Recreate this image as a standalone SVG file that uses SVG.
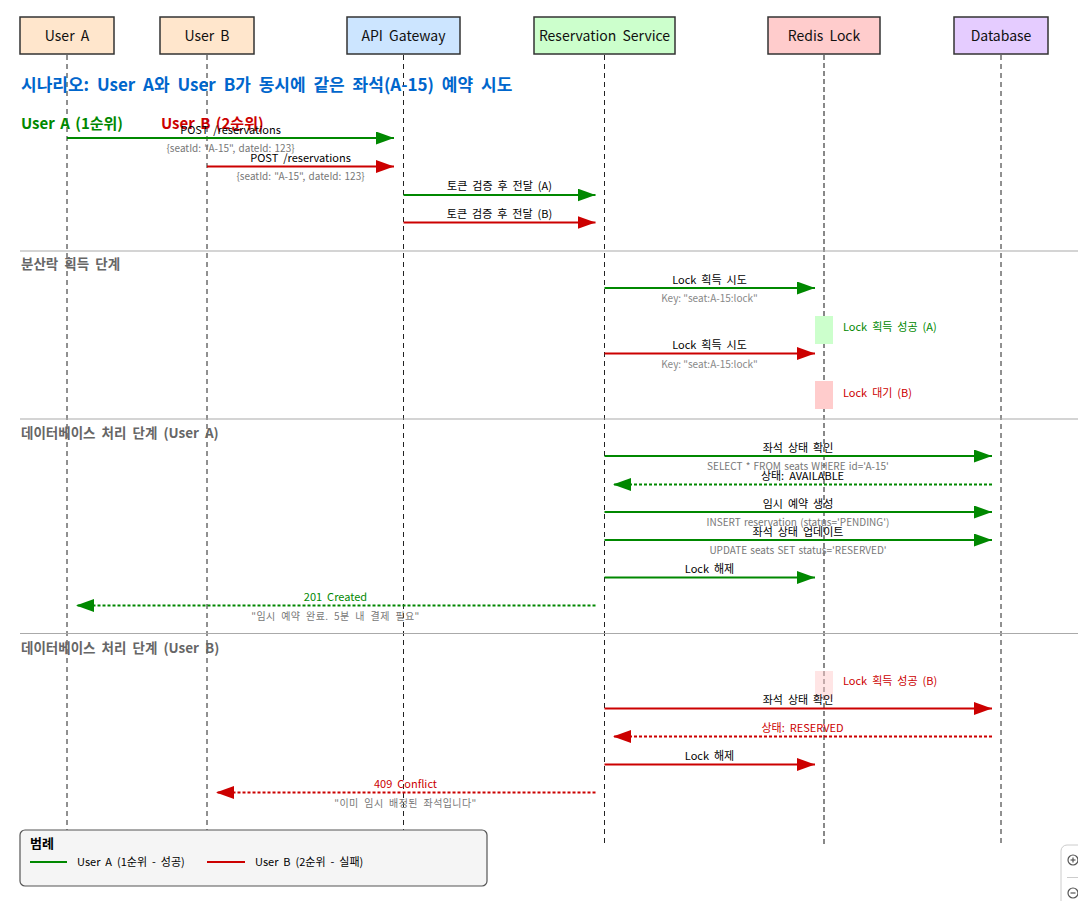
<svg xmlns="http://www.w3.org/2000/svg" width="1078" height="901" viewBox="0 0 1078 901">
<style>
text{font-family:"Noto Sans CJK KR","Noto Sans",sans-serif;}
.actor{stroke:#333;stroke-width:1.5;}
.aname{font-size:14px;fill:#111;text-anchor:middle;word-spacing:3px;}
.life{stroke:#222;stroke-width:1;stroke-dasharray:5,4;fill:none;}
.life-r{stroke:#888;stroke-width:2;stroke-dasharray:5,3;fill:none;}
.sep{stroke:#aaa;stroke-width:1.2;}
.sec{font-size:13.5px;font-weight:bold;fill:#666;word-spacing:3px;}
.g{stroke:#008800;stroke-width:2;fill:none;}
.r{stroke:#cc0000;stroke-width:2;fill:none;}
.dot{stroke-dasharray:3,2;}
.lbl{font-size:11px;fill:#000;text-anchor:middle;word-spacing:2.5px;}
.sub{font-size:10px;fill:#777;text-anchor:middle;word-spacing:1px;}
.subk{font-size:10px;fill:#777;text-anchor:middle;word-spacing:3px;letter-spacing:0.4px;}
.key{font-size:10px;fill:#888;text-anchor:middle;}
.gt{fill:#008800;}
.rt{fill:#cc0000;}
.note{font-size:11px;word-spacing:2.5px;}
.leg{font-size:11px;fill:#000;word-spacing:2.5px;}
</style>
<defs>
<marker id="ag" markerUnits="userSpaceOnUse" markerWidth="19" markerHeight="13" refX="18" refY="6.5" orient="auto"><path d="M0,0 L18,6.5 L0,13 z" fill="#008800"/></marker>
<marker id="ar" markerUnits="userSpaceOnUse" markerWidth="19" markerHeight="13" refX="18" refY="6.5" orient="auto"><path d="M0,0 L18,6.5 L0,13 z" fill="#cc0000"/></marker>
</defs>
<rect width="1078" height="901" fill="#fff"/>

<g id="lifelines">
<line class="life" x1="67" y1="55" x2="67" y2="845"/>
<line class="life" x1="207" y1="55" x2="207" y2="845"/>
<line class="life" x1="403.5" y1="55" x2="403.5" y2="845"/>
<line class="life" x1="604.5" y1="55" x2="604.5" y2="845"/>
<line class="life-r" x1="824" y1="55" x2="824" y2="845"/>
<line class="life" x1="1001" y1="55" x2="1001" y2="845"/>
</g>

<g id="actor-user-a"><rect class="actor" x="20" y="17" width="94" height="37" fill="#ffe6cc"/><text class="aname" x="67" y="41">User A</text></g>
<g id="actor-user-b"><rect class="actor" x="160" y="17" width="94" height="37" fill="#ffe6cc"/><text class="aname" x="207" y="41">User B</text></g>
<g id="actor-api-gateway"><rect class="actor" x="347" y="17" width="113" height="37" fill="#cce5ff"/><text class="aname" x="403.5" y="41">API Gateway</text></g>
<g id="actor-reservation"><rect class="actor" x="534" y="17" width="141" height="37" fill="#ccffcc"/><text class="aname" x="604.5" y="41">Reservation Service</text></g>
<g id="actor-redis"><rect class="actor" x="768" y="17" width="112" height="37" fill="#ffcccc"/><text class="aname" x="824" y="41">Redis Lock</text></g>
<g id="actor-database"><rect class="actor" x="954" y="17" width="94" height="37" fill="#e5ccff"/><text class="aname" x="1001" y="41">Database</text></g>

<g id="title">
<text x="21" y="91" font-size="17" font-weight="bold" fill="#0066cc" word-spacing="4">시나리오: User A와 User B가 동시에 같은 좌석(A-15) 예약 시도</text>
<text x="21" y="129" font-size="15" font-weight="bold" class="gt" word-spacing="2">User A (1순위)</text>
<text x="161" y="129" font-size="15" font-weight="bold" class="rt" word-spacing="2">User B (2순위)</text>
</g>

<g id="sections">
<line class="sep" x1="20" y1="251" x2="1078" y2="251"/>
<text class="sec" x="21" y="269">분산락 획득 단계</text>
<line class="sep" x1="20" y1="419" x2="1078" y2="419"/>
<text class="sec" x="21" y="438">데이터베이스 처리 단계 (User A)</text>
<line class="sep" x1="20" y1="633.5" x2="1078" y2="633.5"/>
<text class="sec" x="21" y="653">데이터베이스 처리 단계 (User B)</text>
</g>

<g id="activations">
<rect x="815" y="316" width="18" height="28" fill="#ccffcc"/>
<text class="note gt" x="843" y="331">Lock 획득 성공 (A)</text>
<rect x="815" y="381" width="18" height="28" fill="#ffcccc"/>
<text class="note rt" x="843" y="397">Lock 대기 (B)</text>
<rect x="815" y="671" width="18" height="28" fill="#ffcccc" opacity="0.5"/>
<text class="note rt" x="843" y="685">Lock 획득 성공 (B)</text>
</g>

<g id="connectors">
<line class="g" x1="67" y1="138" x2="394" y2="138" marker-end="url(#ag)"/>
<text class="lbl" x="230.5" y="134">POST /reservations</text>
<text class="sub" x="230.5" y="152">{seatId: "A-15", dateId: 123}</text>

<line class="r" x1="207" y1="166.5" x2="394" y2="166.5" marker-end="url(#ar)"/>
<text class="lbl" x="300.5" y="162">POST /reservations</text>
<text class="sub" x="300.5" y="180">{seatId: "A-15", dateId: 123}</text>

<line class="g" x1="403.5" y1="195" x2="595.5" y2="195" marker-end="url(#ag)"/>
<text class="lbl" x="499.5" y="190">토큰 검증 후 전달 (A)</text>

<line class="r" x1="403.5" y1="222.5" x2="595.5" y2="222.5" marker-end="url(#ar)"/>
<text class="lbl" x="499.5" y="218">토큰 검증 후 전달 (B)</text>

<line class="g" x1="604.5" y1="288" x2="815" y2="288" marker-end="url(#ag)"/>
<text class="lbl" x="709.5" y="284">Lock 획득 시도</text>
<text class="key" x="709.5" y="302">Key: "seat:A-15:lock"</text>

<line class="r" x1="604.5" y1="353.5" x2="815" y2="353.5" marker-end="url(#ar)"/>
<text class="lbl" x="709.5" y="349">Lock 획득 시도</text>
<text class="key" x="709.5" y="368">Key: "seat:A-15:lock"</text>

<line class="g" x1="604.5" y1="456" x2="992" y2="456" marker-end="url(#ag)"/>
<text class="lbl" x="798" y="452">좌석 상태 확인</text>
<text class="sub" x="798" y="470">SELECT * FROM seats WHERE id='A-15'</text>

<line class="g dot" x1="992" y1="484.5" x2="613" y2="484.5" marker-end="url(#ag)"/>
<text class="lbl" x="802.5" y="480">상태: AVAILABLE</text>

<line class="g" x1="604.5" y1="512" x2="992" y2="512" marker-end="url(#ag)"/>
<text class="lbl" x="798" y="508">임시 예약 생성</text>
<text class="sub" x="798" y="526">INSERT reservation (status='PENDING')</text>

<line class="g" x1="604.5" y1="540" x2="992" y2="540" marker-end="url(#ag)"/>
<text class="lbl" x="798" y="535.5">좌석 상태 업데이트</text>
<text class="sub" x="798" y="554">UPDATE seats SET status='RESERVED'</text>

<line class="g" x1="604.5" y1="577.5" x2="815" y2="577.5" marker-end="url(#ag)"/>
<text class="lbl" x="709.5" y="573">Lock 해제</text>

<line class="g dot" x1="595.5" y1="605.5" x2="76" y2="605.5" marker-end="url(#ag)"/>
<text class="lbl gt" x="335.5" y="601">201 Created</text>
<text class="subk" x="335.5" y="620">"임시 예약 완료. 5분 내 결제 필요"</text>

<line class="r" x1="604.5" y1="708.5" x2="992" y2="708.5" marker-end="url(#ar)"/>
<text class="lbl" x="798" y="704">좌석 상태 확인</text>

<line class="r dot" x1="992" y1="736.5" x2="613" y2="736.5" marker-end="url(#ar)"/>
<text class="lbl rt" x="802.5" y="732">상태: RESERVED</text>

<line class="r" x1="604.5" y1="764.5" x2="815" y2="764.5" marker-end="url(#ar)"/>
<text class="lbl" x="709.5" y="759.5">Lock 해제</text>

<line class="r dot" x1="595.5" y1="792.5" x2="216" y2="792.5" marker-end="url(#ar)"/>
<text class="lbl rt" x="405.5" y="787.5">409 Conflict</text>
<text class="subk" x="405.5" y="807">"이미 임시 배정된 좌석입니다"</text>
</g>

<g id="legend">
<rect x="20" y="830" width="467" height="56" rx="5" fill="#f5f5f5" stroke="#555" stroke-width="1.2"/>
<text x="30" y="848" font-size="13" font-weight="bold" fill="#000">범례</text>
<line x1="30" y1="862" x2="67" y2="862" stroke="#008800" stroke-width="2"/>
<text class="leg" x="77" y="866">User A (1순위 - 성공)</text>
<line x1="207" y1="862" x2="245" y2="862" stroke="#cc0000" stroke-width="2"/>
<text class="leg" x="255" y="866">User B (2순위 - 실패)</text>
</g>

<g id="zoom-control">
<rect x="1061" y="845" width="40" height="80" rx="6" fill="#fff" stroke="#ccc" stroke-width="1"/>
<line x1="1067" y1="877.5" x2="1078" y2="877.5" stroke="#ccc" stroke-width="1"/>
<circle cx="1073" cy="860" r="5" fill="none" stroke="#555" stroke-width="1.2"/>
<line x1="1070.5" y1="860" x2="1075.5" y2="860" stroke="#555" stroke-width="1.2"/>
<line x1="1073" y1="857.5" x2="1073" y2="862.5" stroke="#555" stroke-width="1.2"/>
<circle cx="1073" cy="893" r="5" fill="none" stroke="#555" stroke-width="1.2"/>
<line x1="1070.5" y1="893" x2="1075.5" y2="893" stroke="#555" stroke-width="1.2"/>
</g>
</svg>
